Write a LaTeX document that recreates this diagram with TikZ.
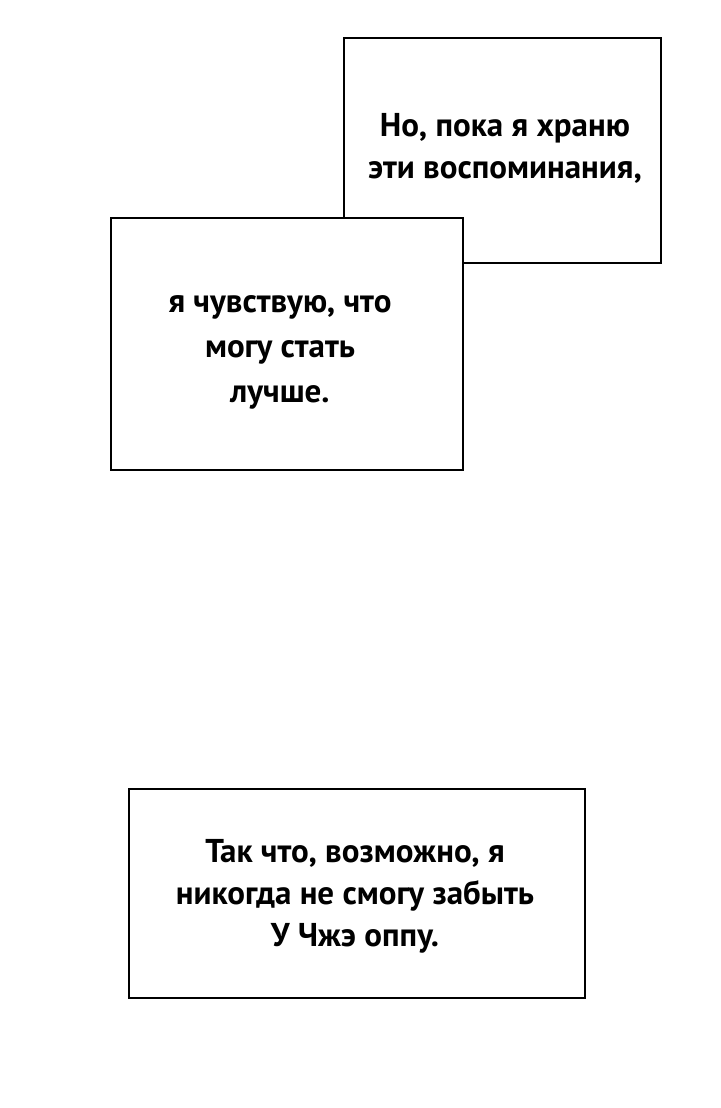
\documentclass[tikz,border=0pt]{standalone}
\usepackage{fontspec}
\setmainfont{PT Sans}
\begin{document}
\begin{tikzpicture}[x=1pt,y=-1pt,
  panel/.style={draw=black,line width=2.2pt,fill=white},
  txt/.style={align=center,font=\bfseries\fontsize{33}{42}\selectfont}]
\useasboundingbox[fill=white] (0,0) rectangle (720,1108);
\draw[panel] (344,38) rectangle (661,263);
\draw[panel] (111,218) rectangle (463,470);
\draw[panel] (129,789) rectangle (585,998);
\node[txt] (t1) at (505,148) {Но, пока я храню\\эти воспоминания,};
\node[txt,font=\bfseries\fontsize{33}{45}\selectfont] (t2) at (280,352) {я чувствую, что\\могу стать\\лучше.};
\node[txt] (t3) at (355,896) {Так что, возможно, я\\никогда не смогу забыть\\У Чжэ оппу.};
\end{tikzpicture}
\end{document}
